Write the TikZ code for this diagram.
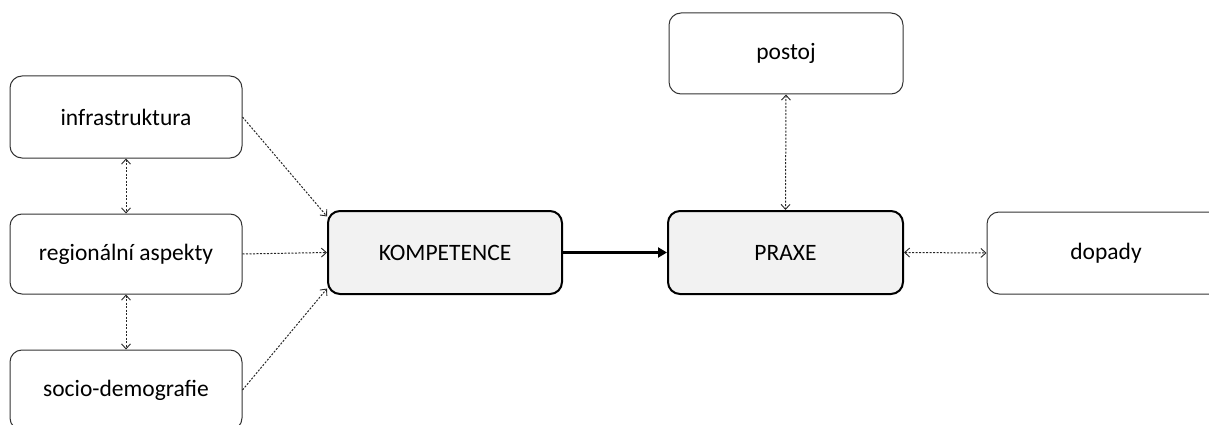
\documentclass[tikz,border=0pt]{standalone}
\usepackage{fontspec}
\setmainfont{Carlito}
\usetikzlibrary{arrows.meta}
\begin{document}
\begin{tikzpicture}[x=1pt,y=-1pt,
  box/.style={draw=black!80, line width=1pt, rounded corners=12pt, fill=white,
    inner sep=0pt, font=\fontsize{23.5}{28}\selectfont, text=black},
  mainbox/.style={box, draw=black, line width=2pt, fill=black!5},
  link/.style={draw=black!85, line width=1pt, dash pattern=on 2pt off 1.5pt,
    {Straight Barb[length=5pt,width=9pt,line width=0.9pt]}-{Straight Barb[length=5pt,width=9pt,line width=0.9pt]}},
  onelink/.style={draw=black!85, line width=1pt, dash pattern=on 2pt off 1.5pt,
    -{Straight Barb[length=5pt,width=9pt,line width=0.9pt]}},
  strong/.style={draw=black, line width=2.2pt, -{Triangle[length=9pt,width=10pt]}}
]
\clip (0,0) rectangle (1209,425);
\node[box, minimum width=232pt, minimum height=82pt] (infra) at (126,117) {infrastruktura};
\node[box, minimum width=232pt, minimum height=80pt] (reg) at (126,254) {regionální aspekty};
\node[box, minimum width=232pt, minimum height=80pt] (socio) at (126,390) {socio-demografie};
\node[mainbox, minimum width=234pt, minimum height=83pt] (komp) at (445,252.5) {KOMPETENCE};
\node[mainbox, minimum width=235pt, minimum height=83pt] (praxe) at (785.5,252.5) {PRAXE};
\node[box, minimum width=234pt, minimum height=81pt] (postoj) at (786,53.5) {postoj};
\node[box, minimum width=238pt, minimum height=82pt] (dopady) at (1106,253) {dopady};

\draw[onelink] (infra.east) -- (komp.163);
\draw[onelink] (reg.east) -- (komp.west);
\draw[onelink] (socio.east) -- (komp.197);
\draw[link] (infra.south) -- (reg.north);
\draw[link] (reg.south) -- (socio.north);
\draw[strong] (komp.east) -- (praxe.west);
\draw[link] (postoj.south) -- (praxe.north);
\draw[link] (praxe.east) -- (dopady.west);
\end{tikzpicture}
\end{document}
